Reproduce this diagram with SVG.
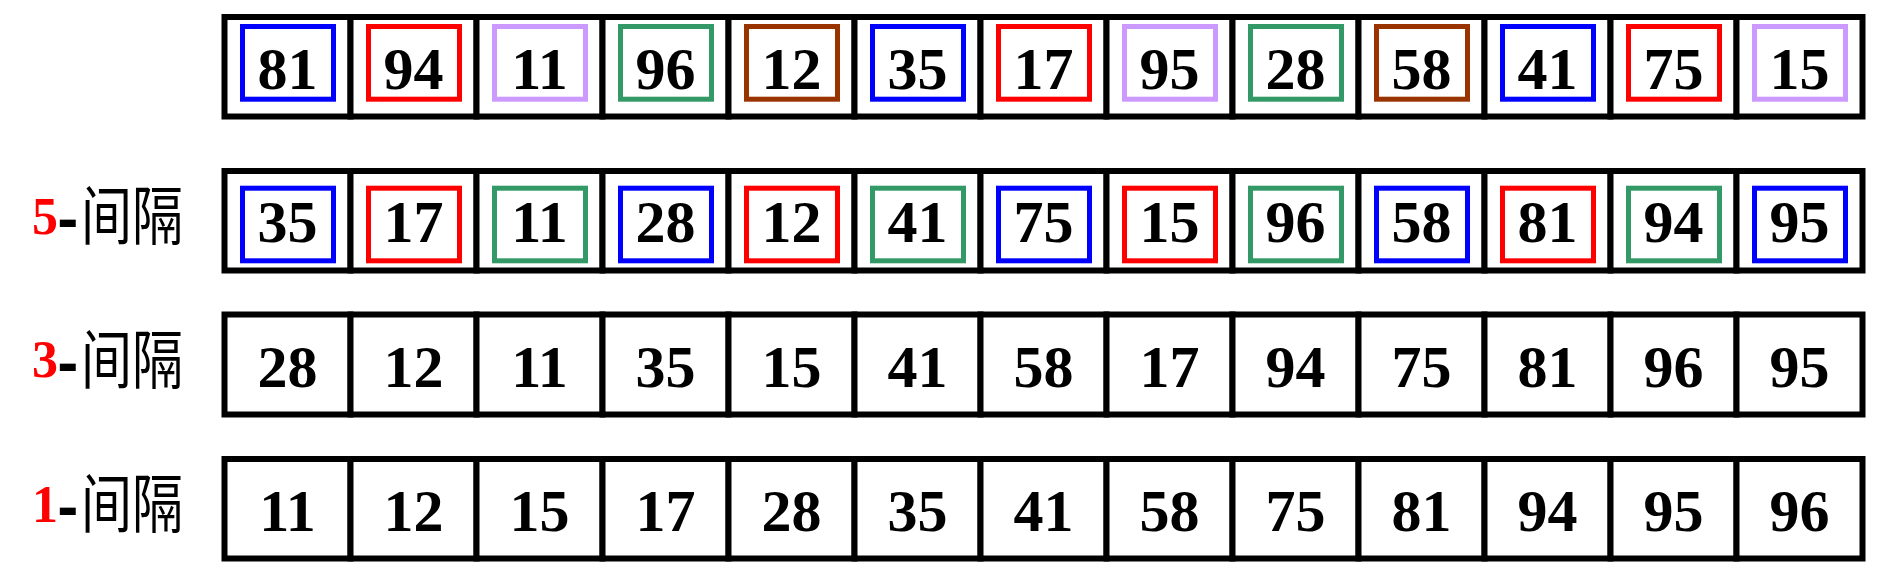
<svg xmlns="http://www.w3.org/2000/svg" width="1889" height="576" viewBox="0 0 1889 576">
<style>
.cell{fill:#fff;stroke:#000;stroke-width:6}
.in{fill:none;stroke-width:5}
.b{stroke:#0000ff}.r{stroke:#ff0000}.p{stroke:#cc99ff}.g{stroke:#339966}.o{stroke:#993300}
.n{font-family:"Liberation Serif","Times New Roman",serif;font-weight:bold;font-size:60px;text-anchor:middle;fill:#000}
.d{font-family:"Liberation Serif","Times New Roman",serif;font-weight:bold;font-size:52px;fill:#ff0000}
.h{font-family:"DejaVu Sans",sans-serif;font-weight:bold;font-size:52px;fill:#000}
.cj{font-family:"Noto Sans CJK SC","Noto Sans CJK JP",sans-serif;font-size:51px;fill:#000}
</style>
<rect width="1889" height="576" fill="#fff"/>
<g id="label5">
<text class="d" x="32" y="233.5">5</text><text class="h" x="57" y="238">-</text>
<text class="cj" x="81" y="0" transform="translate(0 238.7) scale(1 1.24)">间隔</text>
</g>
<g id="label3">
<text class="d" x="32" y="377.3">3</text><text class="h" x="57" y="381.8">-</text>
<text class="cj" x="81" y="0" transform="translate(0 382.5) scale(1 1.24)">间隔</text>
</g>
<g id="label1">
<text class="d" x="32" y="521.5">1</text><text class="h" x="57" y="526">-</text>
<text class="cj" x="81" y="0" transform="translate(0 526.7) scale(1 1.24)">间隔</text>
</g>
<g id="row1">
<g id="r1c1"><rect class="cell" x="224.5" y="17" width="126" height="99.5"/><rect class="in b" x="242.5" y="26.5" width="91" height="72.7"/><text class="n" x="287.5" y="89.3">81</text></g>
<g id="r1c2"><rect class="cell" x="350.5" y="17" width="126" height="99.5"/><rect class="in r" x="368.5" y="26.5" width="91" height="72.7"/><text class="n" x="413.5" y="89.3">94</text></g>
<g id="r1c3"><rect class="cell" x="476.5" y="17" width="126" height="99.5"/><rect class="in p" x="494.5" y="26.5" width="91" height="72.7"/><text class="n" x="539.5" y="89.3">11</text></g>
<g id="r1c4"><rect class="cell" x="602.5" y="17" width="126" height="99.5"/><rect class="in g" x="620.5" y="26.5" width="91" height="72.7"/><text class="n" x="665.5" y="89.3">96</text></g>
<g id="r1c5"><rect class="cell" x="728.5" y="17" width="126" height="99.5"/><rect class="in o" x="746.5" y="26.5" width="91" height="72.7"/><text class="n" x="791.5" y="89.3">12</text></g>
<g id="r1c6"><rect class="cell" x="854.5" y="17" width="126" height="99.5"/><rect class="in b" x="872.5" y="26.5" width="91" height="72.7"/><text class="n" x="917.5" y="89.3">35</text></g>
<g id="r1c7"><rect class="cell" x="980.5" y="17" width="126" height="99.5"/><rect class="in r" x="998.5" y="26.5" width="91" height="72.7"/><text class="n" x="1043.5" y="89.3">17</text></g>
<g id="r1c8"><rect class="cell" x="1106.5" y="17" width="126" height="99.5"/><rect class="in p" x="1124.5" y="26.5" width="91" height="72.7"/><text class="n" x="1169.5" y="89.3">95</text></g>
<g id="r1c9"><rect class="cell" x="1232.5" y="17" width="126" height="99.5"/><rect class="in g" x="1250.5" y="26.5" width="91" height="72.7"/><text class="n" x="1295.5" y="89.3">28</text></g>
<g id="r1c10"><rect class="cell" x="1358.5" y="17" width="126" height="99.5"/><rect class="in o" x="1376.5" y="26.5" width="91" height="72.7"/><text class="n" x="1421.5" y="89.3">58</text></g>
<g id="r1c11"><rect class="cell" x="1484.5" y="17" width="126" height="99.5"/><rect class="in b" x="1502.5" y="26.5" width="91" height="72.7"/><text class="n" x="1547.5" y="89.3">41</text></g>
<g id="r1c12"><rect class="cell" x="1610.5" y="17" width="126" height="99.5"/><rect class="in r" x="1628.5" y="26.5" width="91" height="72.7"/><text class="n" x="1673.5" y="89.3">75</text></g>
<g id="r1c13"><rect class="cell" x="1736.5" y="17" width="126" height="99.5"/><rect class="in p" x="1754.5" y="26.5" width="91" height="72.7"/><text class="n" x="1799.5" y="89.3">15</text></g>
</g>
<g id="row2">
<g id="r2c1"><rect class="cell" x="224.5" y="171" width="126" height="99.5"/><rect class="in b" x="242.5" y="188.2" width="91" height="72.6"/><text class="n" x="287.5" y="241.7">35</text></g>
<g id="r2c2"><rect class="cell" x="350.5" y="171" width="126" height="99.5"/><rect class="in r" x="368.5" y="188.2" width="91" height="72.6"/><text class="n" x="413.5" y="241.7">17</text></g>
<g id="r2c3"><rect class="cell" x="476.5" y="171" width="126" height="99.5"/><rect class="in g" x="494.5" y="188.2" width="91" height="72.6"/><text class="n" x="539.5" y="241.7">11</text></g>
<g id="r2c4"><rect class="cell" x="602.5" y="171" width="126" height="99.5"/><rect class="in b" x="620.5" y="188.2" width="91" height="72.6"/><text class="n" x="665.5" y="241.7">28</text></g>
<g id="r2c5"><rect class="cell" x="728.5" y="171" width="126" height="99.5"/><rect class="in r" x="746.5" y="188.2" width="91" height="72.6"/><text class="n" x="791.5" y="241.7">12</text></g>
<g id="r2c6"><rect class="cell" x="854.5" y="171" width="126" height="99.5"/><rect class="in g" x="872.5" y="188.2" width="91" height="72.6"/><text class="n" x="917.5" y="241.7">41</text></g>
<g id="r2c7"><rect class="cell" x="980.5" y="171" width="126" height="99.5"/><rect class="in b" x="998.5" y="188.2" width="91" height="72.6"/><text class="n" x="1043.5" y="241.7">75</text></g>
<g id="r2c8"><rect class="cell" x="1106.5" y="171" width="126" height="99.5"/><rect class="in r" x="1124.5" y="188.2" width="91" height="72.6"/><text class="n" x="1169.5" y="241.7">15</text></g>
<g id="r2c9"><rect class="cell" x="1232.5" y="171" width="126" height="99.5"/><rect class="in g" x="1250.5" y="188.2" width="91" height="72.6"/><text class="n" x="1295.5" y="241.7">96</text></g>
<g id="r2c10"><rect class="cell" x="1358.5" y="171" width="126" height="99.5"/><rect class="in b" x="1376.5" y="188.2" width="91" height="72.6"/><text class="n" x="1421.5" y="241.7">58</text></g>
<g id="r2c11"><rect class="cell" x="1484.5" y="171" width="126" height="99.5"/><rect class="in r" x="1502.5" y="188.2" width="91" height="72.6"/><text class="n" x="1547.5" y="241.7">81</text></g>
<g id="r2c12"><rect class="cell" x="1610.5" y="171" width="126" height="99.5"/><rect class="in g" x="1628.5" y="188.2" width="91" height="72.6"/><text class="n" x="1673.5" y="241.7">94</text></g>
<g id="r2c13"><rect class="cell" x="1736.5" y="171" width="126" height="99.5"/><rect class="in b" x="1754.5" y="188.2" width="91" height="72.6"/><text class="n" x="1799.5" y="241.7">95</text></g>
</g>
<g id="row3">
<g id="r3c1"><rect class="cell" x="224.5" y="314.5" width="126" height="100"/><text class="n" x="287.5" y="387.3">28</text></g>
<g id="r3c2"><rect class="cell" x="350.5" y="314.5" width="126" height="100"/><text class="n" x="413.5" y="387.3">12</text></g>
<g id="r3c3"><rect class="cell" x="476.5" y="314.5" width="126" height="100"/><text class="n" x="539.5" y="387.3">11</text></g>
<g id="r3c4"><rect class="cell" x="602.5" y="314.5" width="126" height="100"/><text class="n" x="665.5" y="387.3">35</text></g>
<g id="r3c5"><rect class="cell" x="728.5" y="314.5" width="126" height="100"/><text class="n" x="791.5" y="387.3">15</text></g>
<g id="r3c6"><rect class="cell" x="854.5" y="314.5" width="126" height="100"/><text class="n" x="917.5" y="387.3">41</text></g>
<g id="r3c7"><rect class="cell" x="980.5" y="314.5" width="126" height="100"/><text class="n" x="1043.5" y="387.3">58</text></g>
<g id="r3c8"><rect class="cell" x="1106.5" y="314.5" width="126" height="100"/><text class="n" x="1169.5" y="387.3">17</text></g>
<g id="r3c9"><rect class="cell" x="1232.5" y="314.5" width="126" height="100"/><text class="n" x="1295.5" y="387.3">94</text></g>
<g id="r3c10"><rect class="cell" x="1358.5" y="314.5" width="126" height="100"/><text class="n" x="1421.5" y="387.3">75</text></g>
<g id="r3c11"><rect class="cell" x="1484.5" y="314.5" width="126" height="100"/><text class="n" x="1547.5" y="387.3">81</text></g>
<g id="r3c12"><rect class="cell" x="1610.5" y="314.5" width="126" height="100"/><text class="n" x="1673.5" y="387.3">96</text></g>
<g id="r3c13"><rect class="cell" x="1736.5" y="314.5" width="126" height="100"/><text class="n" x="1799.5" y="387.3">95</text></g>
</g>
<g id="row4">
<g id="r4c1"><rect class="cell" x="224.5" y="459" width="126" height="99.5"/><text class="n" x="287.5" y="531">11</text></g>
<g id="r4c2"><rect class="cell" x="350.5" y="459" width="126" height="99.5"/><text class="n" x="413.5" y="531">12</text></g>
<g id="r4c3"><rect class="cell" x="476.5" y="459" width="126" height="99.5"/><text class="n" x="539.5" y="531">15</text></g>
<g id="r4c4"><rect class="cell" x="602.5" y="459" width="126" height="99.5"/><text class="n" x="665.5" y="531">17</text></g>
<g id="r4c5"><rect class="cell" x="728.5" y="459" width="126" height="99.5"/><text class="n" x="791.5" y="531">28</text></g>
<g id="r4c6"><rect class="cell" x="854.5" y="459" width="126" height="99.5"/><text class="n" x="917.5" y="531">35</text></g>
<g id="r4c7"><rect class="cell" x="980.5" y="459" width="126" height="99.5"/><text class="n" x="1043.5" y="531">41</text></g>
<g id="r4c8"><rect class="cell" x="1106.5" y="459" width="126" height="99.5"/><text class="n" x="1169.5" y="531">58</text></g>
<g id="r4c9"><rect class="cell" x="1232.5" y="459" width="126" height="99.5"/><text class="n" x="1295.5" y="531">75</text></g>
<g id="r4c10"><rect class="cell" x="1358.5" y="459" width="126" height="99.5"/><text class="n" x="1421.5" y="531">81</text></g>
<g id="r4c11"><rect class="cell" x="1484.5" y="459" width="126" height="99.5"/><text class="n" x="1547.5" y="531">94</text></g>
<g id="r4c12"><rect class="cell" x="1610.5" y="459" width="126" height="99.5"/><text class="n" x="1673.5" y="531">95</text></g>
<g id="r4c13"><rect class="cell" x="1736.5" y="459" width="126" height="99.5"/><text class="n" x="1799.5" y="531">96</text></g>
</g>
</svg>
